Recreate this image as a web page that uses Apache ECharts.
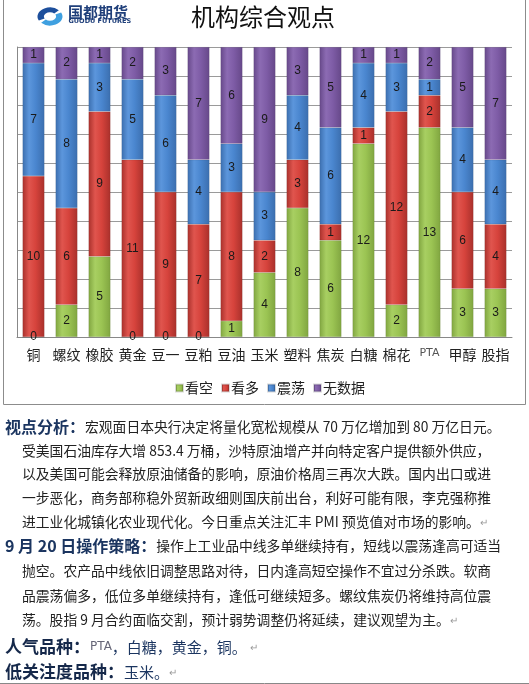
<!DOCTYPE html>
<html>
<head>
<meta charset="utf-8">
<script src="https://cdn.jsdelivr.net/npm/echarts@6/dist/echarts.min.js"></script>
<style>
html,body{margin:0;padding:0;background:#fff;}
#c{width:529px;height:684px;}
</style>
</head>
<body>
<div id="c"></div>
<script>
// ---- data ----
const categories = ['铜','螺纹','橡胶','黄金','豆一','豆粕','豆油','玉米','塑料','焦炭','白糖','棉花','PTA','甲醇','股指'];
const seriesNames = ['看空','看多','震荡','无数据'];
const bearish = [0,2,5,0,0,0,1,4,8,6,12,2,13,3,3];     // 看空
const bullish = [10,6,9,11,9,7,8,2,3,1,1,12,2,6,4];    // 看多
const ranging = [7,8,3,5,6,4,3,3,4,6,4,3,1,4,4];       // 震荡
const noData  = [1,2,1,2,3,7,6,9,3,5,1,1,2,5,7];       // 无数据
const title = '机构综合观点';

const CJK = '"Noto Sans CJK SC", sans-serif';

function grad(edge, mid, light) {
  return new echarts.graphic.LinearGradient(0, 0, 1, 0, [
    {offset: 0, color: edge},
    {offset: 0.3, color: light},
    {offset: 0.6, color: mid},
    {offset: 1, color: edge}
  ]);
}
const palette = [
  grad('#80A540', '#9BC453', '#A8CF62'),
  grad('#A8302B', '#D6433C', '#E0554E'),
  grad('#3B6EAE', '#4A86CF', '#5C96DC'),
  grad('#664889', '#7E5CA6', '#8C6BB3')
];
const flat = ['#9BC453','#D6433C','#4A86CF','#7E5CA6'];
const dataSets = [bearish, bullish, ranging, noData];

const series = seriesNames.map((n, i) => ({
  name: n,
  type: 'bar',
  stack: 'all',
  barWidth: 22,
  data: dataSets[i],
  itemStyle: { color: palette[i], borderColor: 'rgba(0,0,0,0.15)', borderWidth: 0.5 },
  label: {
    show: true, position: 'inside', formatter: '{c}',
    color: '#1a1a1a', fontSize: 12, fontFamily: '"Liberation Sans", Arial, sans-serif'
  },
  emphasis: { disabled: true }
}));

// ---- text block ----
const H = { fontSize: 16, fontWeight: 'bold', fill: '#1B3560', fontFamily: CJK };
const B = { fontSize: 13.8, fill: '#222', fontFamily: CJK };
const M = { fontSize: 10, fill: '#999', fontFamily: CJK };
const lines = [
  {x: 5,  y: 427, text: '{h|视点分析：}{b|宏观面日本央行决定将量化宽松规模从 70 万亿增加到 80 万亿日元。}'},
  {x: 22, y: 451, text: '{b|受美国石油库存大增 853.4 万桶，沙特原油增产并向特定客户提供额外供应，}'},
  {x: 22, y: 474, text: '{b|以及美国可能会释放原油储备的影响，原油价格周三再次大跌。国内出口或进}'},
  {x: 22, y: 498, text: '{b|一步恶化，商务部称稳外贸新政细则国庆前出台，利好可能有限，李克强称推}'},
  {x: 22, y: 522, text: '{b|进工业化城镇化农业现代化。今日重点关注汇丰 PMI 预览值对市场的影响。}{m|↵}'},
  {x: 5,  y: 546, text: '{h|9 月 20 日操作策略：}{b|操作上工业品中线多单继续持有，短线以震荡逢高可适当}'},
  {x: 22, y: 571, text: '{b|抛空。农产品中线依旧调整思路对待，日内逢高短空操作不宜过分杀跌。软商}'},
  {x: 22, y: 596, text: '{b|品震荡偏多，低位多单继续持有，逢低可继续短多。螺纹焦炭仍将维持高位震}'},
  {x: 22, y: 620, text: '{b|荡。股指 9 月合约面临交割，预计弱势调整仍将延续，建议观望为主。}{m|↵}'},
  {x: 5,  y: 647, text: '{h2|人气品种：}{p|PTA}{b2|，白糖，黄金，铜。 }{m|↵}'},
  {x: 5,  y: 672, text: '{h2|低关注度品种：}{b2|玉米。}{m|↵}'}
];
const rich = {
  h: H, b: B, m: M,
  h2: { fontSize: 17, fontWeight: 'bold', fill: '#15284A', fontFamily: CJK },
  b2: { fontSize: 15, fill: '#1B3560', fontFamily: CJK },
  p: { fontSize: 12, fill: '#667', fontFamily: '"DejaVu Sans", sans-serif' }
};

const graphics = [
  { type: 'rect', shape: { x: 3.5, y: -2, width: 522, height: 406.5 }, style: { fill: 'none', stroke: '#8c8c8c', lineWidth: 1 }, silent: true },
  { type: 'line', shape: { x1: 0, y1: 683.5, x2: 529, y2: 683.5 }, style: { stroke: '#888', lineWidth: 1 }, silent: true },
  // logo icon
  { type: 'group', x: 50, y: 16.5, scaleY: 0.72, children: [
    { type: 'sector', shape: { cx: 0, cy: 0, r: 12.5, r0: 6, startAngle: Math.PI * 0.85, endAngle: Math.PI * 1.75 }, style: { fill: '#1D4F9C' } },
    { type: 'sector', shape: { cx: 0, cy: 0, r: 12.5, r0: 6, startAngle: -Math.PI * 0.15, endAngle: Math.PI * 0.75 }, style: { fill: '#3FA0E0' } }
  ]},
  { type: 'text', style: { text: '国都期货', x: 68, y: 12.5, verticalAlign: 'middle', fontSize: 15, fontWeight: 'bold', fill: '#1F3F7A', fontFamily: CJK } },
  { type: 'text', style: { text: 'GUODU FUTURES', x: 68.5, y: 21.5, verticalAlign: 'middle', fontSize: 6.5, fontWeight: 'bold', fill: '#1F3F7A', fontFamily: '"DejaVu Sans", sans-serif' } },
  { type: 'text', style: { text: title, x: 263, y: 17, align: 'center', verticalAlign: 'middle', fontSize: 24, fill: '#111', fontFamily: CJK } }
].concat(lines.map(l => ({
  type: 'text',
  style: { text: l.text, x: l.x, y: l.y, verticalAlign: 'middle', rich: rich }
})));

const chart = echarts.init(document.getElementById('c'), null, { renderer: 'canvas' });
chart.setOption({
  animation: false,
  color: flat,
  grid: { left: 17, right: 17, top: 47, bottom: 347, containLabel: false },
  legend: {
    data: seriesNames,
    left: 170, top: 376,
    itemWidth: 7, itemHeight: 7, itemGap: 8,
    icon: 'rect',
    textStyle: { fontSize: 14, color: '#222', fontFamily: CJK, padding: [0, 0, 0, -3] }
  },
  xAxis: {
    type: 'category',
    data: categories,
    axisLine: { lineStyle: { color: '#888' } },
    axisTick: { show: false },
    axisLabel: {
      margin: 11, fontSize: 14, color: '#222', fontFamily: CJK, interval: 0,
      formatter: v => v === 'PTA' ? '{p|PTA}' : v,
      rich: { p: { fontSize: 11, color: '#555', fontFamily: '"DejaVu Sans", sans-serif' } }
    }
  },
  yAxis: {
    type: 'value', min: 0, max: 18, interval: 1.8,
    axisLine: { show: true, lineStyle: { color: '#888' } },
    axisTick: { show: false },
    axisLabel: { show: false },
    splitLine: { lineStyle: { color: '#9a9a9a' } }
  },
  series: series,
  graphic: graphics
});
</script>
</body>
</html>
